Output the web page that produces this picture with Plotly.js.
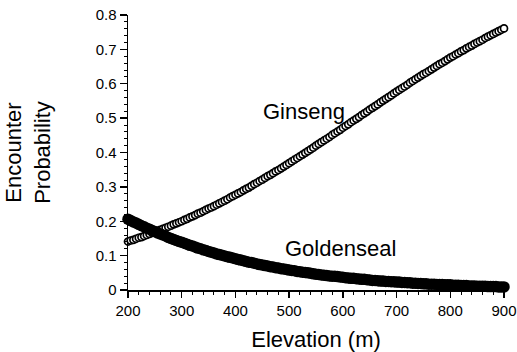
<!DOCTYPE html>
<html>
<head>
<meta charset="utf-8">
<script src="https://cdn.plot.ly/plotly-3.0.1.min.js"></script>
<style>html,body{margin:0;padding:0;background:#fff;}#chart{width:517px;height:352px;}</style>
</head>
<body>
<div id="chart"></div>
<script>
const elevation = [200,205,210,215,220,225,230,235,240,245,250,255,260,265,270,275,280,285,290,295,
300,305,310,315,320,325,330,335,340,345,350,355,360,365,370,375,380,385,390,395,
400,405,410,415,420,425,430,435,440,445,450,455,460,465,470,475,480,485,490,495,
500,505,510,515,520,525,530,535,540,545,550,555,560,565,570,575,580,585,590,595,
600,605,610,615,620,625,630,635,640,645,650,655,660,665,670,675,680,685,690,695,
700,705,710,715,720,725,730,735,740,745,750,755,760,765,770,775,780,785,790,795,
800,805,810,815,820,825,830,835,840,845,850,855,860,865,870,875,880,885,890,895,900];

const ginseng = [0.141,0.144,0.146,0.149,0.152,0.154,0.157,0.160,0.163,0.166,0.169,0.172,0.175,0.178,0.181,0.184,0.187,0.191,0.194,0.197,
0.200,0.204,0.207,0.211,0.214,0.218,0.222,0.225,0.229,0.233,0.237,0.240,0.244,0.248,0.252,0.256,0.260,0.264,0.269,0.273,
0.277,0.281,0.285,0.290,0.294,0.298,0.303,0.308,0.312,0.317,0.321,0.326,0.331,0.335,0.340,0.345,0.349,0.354,0.359,0.364,
0.369,0.374,0.379,0.384,0.389,0.394,0.399,0.404,0.409,0.414,0.420,0.425,0.430,0.435,0.440,0.445,0.451,0.456,0.461,0.466,
0.472,0.477,0.482,0.488,0.493,0.498,0.503,0.509,0.514,0.519,0.525,0.530,0.535,0.540,0.546,0.551,0.556,0.561,0.566,0.572,
0.577,0.582,0.587,0.592,0.597,0.603,0.608,0.613,0.618,0.623,0.628,0.632,0.637,0.642,0.647,0.652,0.657,0.661,0.666,0.671,
0.676,0.680,0.685,0.689,0.694,0.698,0.703,0.707,0.711,0.716,0.720,0.724,0.728,0.733,0.737,0.741,0.745,0.749,0.753,0.757,0.761];

const goldenseal = [0.206,0.202,0.198,0.195,0.191,0.187,0.184,0.180,0.177,0.173,0.170,0.166,0.163,0.160,0.157,0.153,0.150,0.147,0.144,0.141,
0.139,0.136,0.133,0.130,0.128,0.125,0.122,0.120,0.117,0.115,0.112,0.110,0.108,0.105,0.103,0.101,0.099,0.097,0.095,0.093,
0.091,0.089,0.087,0.085,0.083,0.081,0.080,0.078,0.076,0.074,0.073,0.071,0.070,0.068,0.067,0.065,0.064,0.062,0.061,0.060,
0.058,0.057,0.056,0.054,0.053,0.052,0.051,0.050,0.049,0.047,0.046,0.045,0.044,0.043,0.042,0.041,0.040,0.040,0.039,0.038,
0.037,0.036,0.035,0.034,0.034,0.033,0.032,0.031,0.031,0.030,0.029,0.028,0.028,0.027,0.026,0.026,0.025,0.025,0.024,0.024,
0.023,0.023,0.022,0.022,0.021,0.021,0.020,0.020,0.019,0.019,0.018,0.018,0.017,0.017,0.017,0.016,0.016,0.016,0.015,0.015,
0.015,0.014,0.014,0.014,0.013,0.013,0.013,0.012,0.012,0.012,0.011,0.011,0.011,0.011,0.010,0.010,0.010,0.010,0.009,0.009,0.009];

const xTicks = [200,300,400,500,600,700,800,900];
const yTicks = [0,0.1,0.2,0.3,0.4,0.5,0.6,0.7,0.8];
const yTickText = ["0","0.1","0.2","0.3","0.4","0.5","0.6","0.7","0.8"];
const seriesNames = ["Ginseng","Goldenseal"];

const FONT = "Liberation Sans, Arial, Helvetica, sans-serif";

const traces = [
  {
    x: elevation, y: ginseng, name: seriesNames[0], type: "scatter", mode: "markers",
    cliponaxis: false,
    marker: {symbol: "circle", size: 7, color: "#ffffff", line: {color: "#000000", width: 1.7}}
  },
  {
    x: elevation, y: goldenseal, name: seriesNames[1], type: "scatter", mode: "markers",
    cliponaxis: false,
    marker: {symbol: "circle", size: 11.5, color: "#000000", line: {width: 0}}
  }
];

const layout = {
  width: 517, height: 352,
  margin: {l: 128, r: 13, t: 15, b: 62, pad: 0},
  paper_bgcolor: "#ffffff", plot_bgcolor: "#ffffff",
  showlegend: false,
  font: {family: FONT, color: "#000000", size: 15},
  xaxis: {
    range: [200, 900], tickvals: xTicks, ticktext: xTicks.map(String),
    showline: true, linecolor: "#000", linewidth: 1.5, mirror: false,
    ticks: "outside", ticklen: 6, tickwidth: 1.3, tickcolor: "#000",
    minor: {dtick: 20, ticks: "outside", ticklen: 3, tickwidth: 1, tickcolor: "#000", showgrid: false},
    showgrid: false, zeroline: false,
    tickfont: {family: FONT, size: 15, color: "#000"},
    title: {text: "Elevation (m)", font: {family: FONT, size: 22, color: "#000"}, standoff: 14},
    automargin: false
  },
  yaxis: {
    range: [0, 0.8], tickvals: yTicks, ticktext: yTickText,
    showline: true, linecolor: "#000", linewidth: 1.5, mirror: false,
    ticks: "outside", ticklen: 7, tickwidth: 1.3, tickcolor: "#000",
    minor: {dtick: 0.02, ticks: "outside", ticklen: 3, tickwidth: 1, tickcolor: "#000", showgrid: false},
    showgrid: false, zeroline: false,
    tickfont: {family: FONT, size: 15, color: "#000"},
    title: {text: "Encounter<br>Probability", font: {family: FONT, size: 22, color: "#000"}, standoff: 39},
    automargin: false
  },
  annotations: [
    {x: 528, y: 0.52, xref: "x", yref: "y", text: seriesNames[0], showarrow: false,
     font: {family: FONT, size: 22, color: "#000"}, xanchor: "center", yanchor: "middle"},
    {x: 595, y: 0.122, xref: "x", yref: "y", text: seriesNames[1], showarrow: false,
     font: {family: FONT, size: 22, color: "#000"}, xanchor: "center", yanchor: "middle"}
  ]
};

Plotly.newPlot("chart", traces, layout, {displayModeBar: false, staticPlot: true});
</script>
</body>
</html>
